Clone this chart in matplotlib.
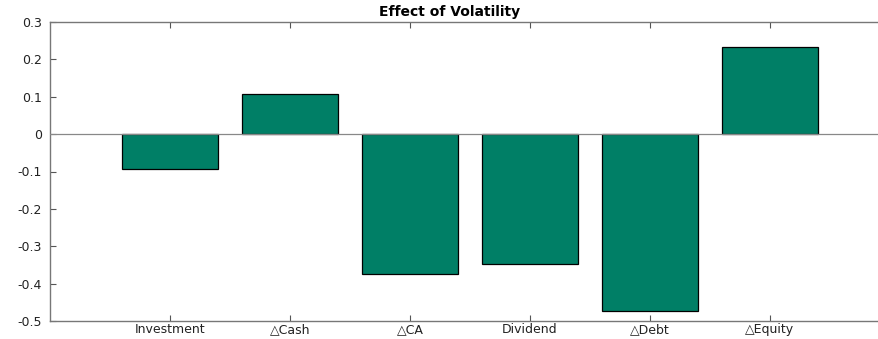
import numpy as np
import matplotlib
matplotlib.use("Agg")
from matplotlib import pyplot as plt

plt.rcParams['font.family'] = ['DejaVu Sans']

labels = ["Investment", "\u25b3Cash", "\u25b3CA", "Dividend", "\u25b3Debt", "\u25b3Equity"]
effect = [-0.094, 0.107, -0.375, -0.348, -0.474, 0.233]
yticks = [-0.5, -0.4, -0.3, -0.2, -0.1, 0, 0.1, 0.2, 0.3]

fig = plt.figure(figsize=(8.79, 3.39), dpi=100)
ax = fig.add_axes([50/879, 18/339, 828/879, 299/339])

x = np.arange(1, len(labels) + 1)
ax.bar(x, effect, width=0.8, color='#007f66', edgecolor='black', linewidth=0.9, zorder=2)
ax.axhline(0, color='#888888', linewidth=0.9, zorder=3)

ax.set_xlim(0, 828/120)
ax.set_ylim(-0.5, 0.3)
ax.set_xticks(x)
ax.set_xticklabels(labels)
ax.set_yticks(yticks)
ax.set_yticklabels([f"{v:g}" for v in yticks])
ax.tick_params(direction='in', length=4, width=0.8, colors='#555555', labelcolor='#222222',
               labelsize=9, top=True)
ax.tick_params(axis='x', pad=1.5)
ax.tick_params(axis='y', pad=6)
ax.spines['right'].set_visible(False)
for s in ['left', 'top', 'bottom']:
    ax.spines[s].set_color('#777777')
    ax.spines[s].set_linewidth(1.0)

fig.text(450/879, 1 - 12/339, "Effect of Volatility", fontsize=10, fontweight='bold',
         ha='center', va='center')

fig.savefig("out.png", dpi=100)
